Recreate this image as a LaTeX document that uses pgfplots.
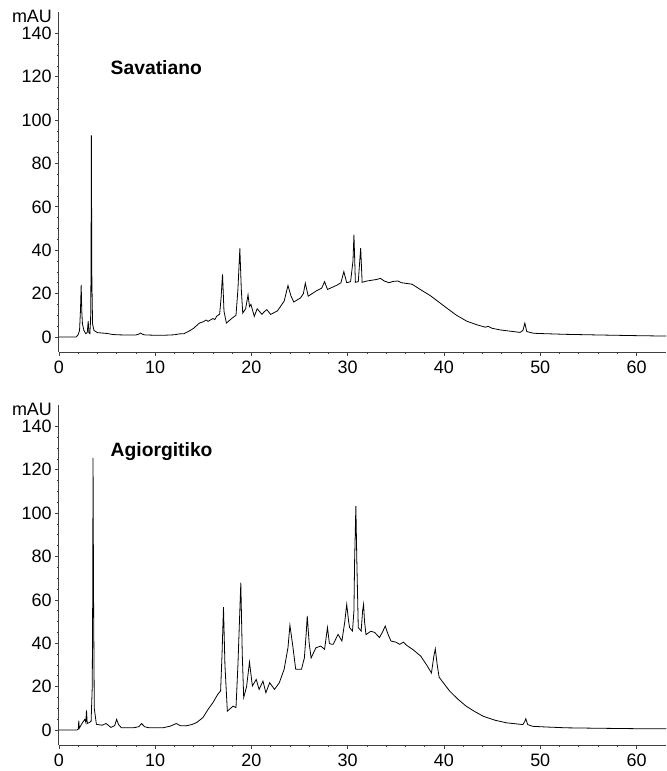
\documentclass[border=0pt]{standalone}
\usepackage{pgfplots}
\pgfplotsset{compat=1.18}
\usepackage{fontspec}
\setmainfont{Liberation Sans}
\pgfplotsset{
  chrom/.style={
    scale only axis,
    width=456.75pt, height=256pt,
    xmin=0, xmax=63.1, ymin=-7, ymax=150,
    axis x line=bottom, axis y line=left,
    axis line style={-, black!75, line width=0.6pt},
    xtick={0,10,...,60}, ytick={0,20,...,140},
    minor x tick num=4, minor y tick num=3,
    tick align=outside,
    major tick length=3pt, minor tick length=1.6pt,
    tick style={black!75, line width=0.5pt},
    /pgf/number format/assume math mode=true,
    tick label style={font=\fontsize{13.5}{15}\selectfont},
    yticklabel style={xshift=1pt},
    clip=false,
  },
  trace/.style={black, line width=0.6pt, mark=none},
}
\begin{document}
\begin{tikzpicture}
\path (-44.25pt,-313.5pt) rectangle (456.75pt,264.75pt);
\begin{axis}[chrom, name=top]
\addplot[trace] coordinates {
(0,0) (1.8,0) (2.0,1) (2.15,3) (2.25,12.8) (2.32,24) (2.38,12) (2.45,6) (2.6,3) (2.8,1.5)
(2.95,2) (3.05,7.3) (3.12,2) (3.22,1.5) (3.3,8) (3.34,30) (3.38,93) (3.42,30) (3.5,6) (3.65,3)
(4.0,2) (4.5,1.8) (5.0,1.6) (5.5,1.2) (6.0,1) (7.0,0.9) (8.0,0.9) (8.3,1.3) (8.5,1.8) (8.7,1.2)
(9.0,0.9) (10.0,0.8) (11.0,0.8) (12.0,1) (12.5,1.4) (13.0,1.5) (13.6,2.9) (14.0,4) (14.6,6.4) (15.0,7)
(15.3,7.8) (15.5,7.2) (16.0,8.5) (16.2,8) (16.4,9.6) (16.7,10.5) (16.85,18) (17.0,28.9) (17.15,12) (17.4,6.4) (18.0,8.7) (18.4,10)
(18.6,22) (18.8,40.8) (18.95,22) (19.1,11) (19.4,13) (19.65,19.4) (19.8,14) (19.95,15) (20.3,9.5) (20.6,13)
(21.1,10.4) (21.3,11.5) (21.6,12.6) (22.0,10.4) (22.7,12) (23.4,16.5) (23.8,23.7) (24.1,19) (24.4,16.1) (25.1,18)
(25.4,20) (25.6,24.8) (25.9,18.8) (26.8,21.4) (27.3,22.5) (27.6,25.5) (27.9,21.9) (28.9,23.9) (29.3,25) (29.6,30.1)
(29.9,25) (30.3,25.5) (30.55,35) (30.65,47.2) (30.8,25.2) (31.1,25.5) (31.35,41) (31.5,25.2) (32.0,25.8) (33.0,26.5) (33.4,27)
(33.8,25.8) (34.3,25) (34.7,25.6) (35.2,25.8) (35.6,25) (36.7,24.3) (37.5,22) (38.6,19) (40.3,13.3) (41.3,10) (42.4,7.2) (43.5,5.5) (44.3,4.5)
(44.6,4.9) (45.0,4) (45.9,3.2) (47.9,2.1) (48.2,3) (48.4,6.4) (48.6,2.5) (49.3,1.7) (50.5,1.5) (52.7,1.2)
(56.2,0.9) (60,0.6) (63.1,0.4)
};
\node[anchor=west, font=\bfseries\fontsize{14.5}{17}\selectfont] at (axis cs:4.9,124.3) {Savatiano};
\node[anchor=north east, inner sep=0pt, font=\fontsize{13.5}{15}\selectfont] at ([xshift=-5pt,yshift=1pt]rel axis cs:0,1) {mAU};
\end{axis}
\begin{axis}[chrom, name=bot, at={(0pt,-295.5pt)}]
\addplot[trace] coordinates {
(0,0) (1.9,0) (2.02,0.5) (2.07,4.3) (2.12,0.8) (2.35,2.6) (2.55,4) (2.7,4.9) (2.8,3.5) (2.87,9)
(2.95,3) (3.15,3.4) (3.35,4) (3.47,20) (3.52,65) (3.55,125.5) (3.6,65) (3.68,10) (3.9,2.6) (4.5,2.2)
(4.9,3) (5.4,1.2) (5.8,2) (6.0,4.9) (6.2,2.5) (6.5,1) (7.7,1) (8.3,1.5) (8.6,3) (8.9,1.5)
(9.4,1) (10.8,1) (11.6,1.8) (12.2,3) (12.6,2) (13.2,1.9) (13.8,2.5) (14.3,3.4) (14.96,5.7) (15.5,9.5)
(16.0,12.6) (16.5,16.4) (16.8,18) (16.95,35) (17.1,56.7) (17.25,30) (17.5,8.7) (18.1,11) (18.4,10.3) (18.6,30)
(18.9,67.9) (19.05,35) (19.2,15) (19.5,20) (19.8,31.3) (20.1,20.3) (20.5,23.3) (20.8,18.7) (21.2,22.5) (21.5,17.2)
(21.9,21.8) (22.4,18.7) (22.9,21.8) (23.4,28) (23.8,38) (24.0,48.3) (24.3,38.7) (24.6,28) (25.2,28) (25.5,33.2)
(25.7,45) (25.8,52.6) (26.0,40) (26.2,33.2) (26.7,37.9) (27.2,38.7) (27.6,37.2) (27.9,47.2) (28.1,40) (28.3,39.5)
(28.5,39.5) (29.0,44.1) (29.4,41) (29.7,50) (29.9,57.9) (30.1,50) (30.2,47.2) (30.5,45.6) (30.65,55) (30.72,78)
(30.85,103.2) (30.95,78) (31.1,47.2) (31.4,45.6) (31.55,55) (31.65,57.9) (31.75,50) (31.9,44) (32.4,45.5) (32.8,45)
(33.3,42.6) (33.6,45) (33.9,47.9) (34.2,44) (34.5,41) (35.0,40.5) (35.4,39.5) (35.8,40.5) (36.1,39.1) (36.8,37) (37.6,34) (38.2,30)
(38.7,26.3) (38.95,34) (39.1,37.4) (39.3,30) (39.5,24.3) (40.6,17.9) (41.5,14) (42.3,11) (43.2,8.5) (44.1,6.3)
(45.3,4.5) (46.5,3.3) (48.2,2.5) (48.4,4) (48.5,5.2) (48.7,2.5) (49.2,1.7) (50.5,1.4) (52.7,1.0) (56,0.8)
(60,0.6) (63.1,0.6)
};
\node[anchor=west, font=\bfseries\fontsize{14.5}{17}\selectfont] at (axis cs:4.9,128.6) {Agiorgitiko};
\node[anchor=north east, inner sep=0pt, font=\fontsize{13.5}{15}\selectfont] at ([xshift=-5pt,yshift=1pt]rel axis cs:0,1) {mAU};
\end{axis}
\end{tikzpicture}
\end{document}
